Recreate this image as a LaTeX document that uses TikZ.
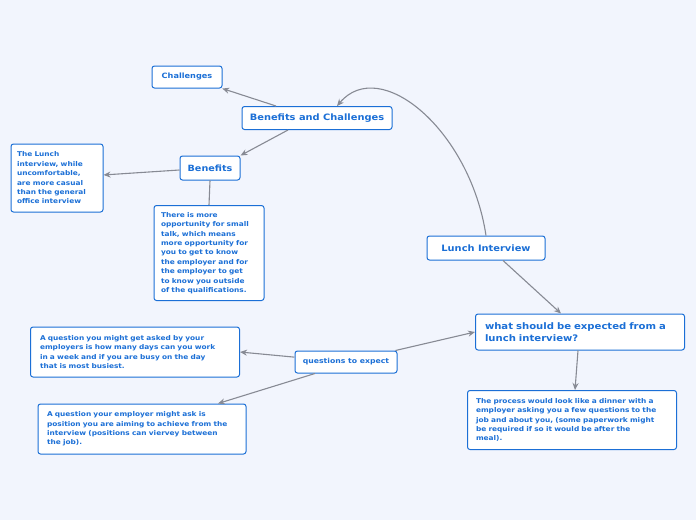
\documentclass[tikz,border=0pt]{standalone}
\usepackage{fontspec}
\setmainfont{DejaVu Sans}[FakeStretch=1.12]
\usetikzlibrary{arrows.meta}
\definecolor{bg}{HTML}{F2F5FD}
\definecolor{tb}{HTML}{1B6FD6}
\definecolor{ln}{HTML}{878A94}
\tikzset{
 box/.style={draw=tb,line width=1pt,fill=white,rounded corners=2.5pt,text=tb,font=\bfseries,inner sep=0pt,align=left},
 sm/.style={box,font=\fontsize{6.6}{9.4}\selectfont\bfseries},
 conn/.style={draw=ln,line width=1.1pt,-{Stealth[length=7pt,width=6pt]}},
 plain/.style={draw=ln,line width=1.1pt}
}
\begin{document}
\begin{tikzpicture}[x=1pt,y=-1pt]
\fill[bg] (0,0) rectangle (696,520);
\useasboundingbox (0,0) rectangle (696,520);
\node[box,minimum width=70pt,minimum height=22pt,align=center,font=\fontsize{7.3}{8}\selectfont\bfseries] (ch) at (187,77) {Challenges};
\node[box,minimum width=150pt,minimum height=23pt,align=center,font=\fontsize{8.8}{10}\selectfont\bfseries] (bc) at (317,118) {Benefits and Challenges};
\node[box,minimum width=60pt,minimum height=24pt,align=center,font=\fontsize{8.6}{10}\selectfont\bfseries] (be) at (210,168) {Benefits};
\node[sm,minimum width=92pt,minimum height=68pt,text width=80pt] (lt) at (57,178) {The Lunch\\interview, while\\uncomfortable,\\are more casual\\than the general\\office interview};
\node[sm,minimum width=110pt,minimum height=95pt,text width=96pt] (tm) at (209,253) {There is more\\opportunity for small\\talk, which means\\more opportunity for\\you to get to know\\the employer and for\\the employer to get\\to know you outside\\of the qualifications.};
\node[box,minimum width=118pt,minimum height=24pt,align=center,font=\fontsize{8.8}{10}\selectfont\bfseries] (li) at (486,248) {Lunch Interview};
\node[box,minimum width=209pt,minimum height=36pt,text width=190pt,font=\fontsize{9}{12}\selectfont\bfseries] (ws) at (580,332) {what should be expected from a\\lunch interview?};
\node[sm,minimum width=209pt,minimum height=59pt,text width=192pt] (pr) at (572,420) {The process would look like a dinner with a\\employer asking you a few questions to the\\job and about you, (some paperwork might\\be required if so it would be after the\\meal).};
\node[box,minimum width=102pt,minimum height=22pt,align=center,font=\fontsize{6.9}{8}\selectfont\bfseries] (qe) at (346,362) {questions to expect};
\node[sm,minimum width=209pt,minimum height=50pt,text width=190pt] (q1) at (135,352) {A question you might get asked by your\\employers is how many days can you work\\in a week and if you are busy on the day\\that is most busiest.};
\node[sm,minimum width=208pt,minimum height=50pt,text width=190pt] (q2) at (142,429) {A question your employer might ask is\\position you are aiming to achieve from the\\interview (positions can viervey between\\the job).};
\draw[conn] ([xshift=-41pt]bc.north) -- (ch);
\draw[conn] ([xshift=-29pt]bc.south) -- (be.north east);
\draw[conn] (be) -- (lt);
\draw[plain] (be.south) -- (tm.north);
\draw[conn] (li.north) .. controls (470,130) and (380,55) .. ([xshift=20pt]bc.north);
\draw[conn] ([xshift=17pt]li.south) -- ([xshift=-19pt]ws.north);
\draw[conn] ([xshift=-2pt]ws.south) -- ([xshift=3pt]pr.north);
\draw[conn] (qe) -- (ws.west);
\draw[conn] (qe) -- (q1.east);
\draw[conn] ([xshift=-31pt]qe.south) -- ([xshift=76pt]q2.north);
\end{tikzpicture}
\end{document}
